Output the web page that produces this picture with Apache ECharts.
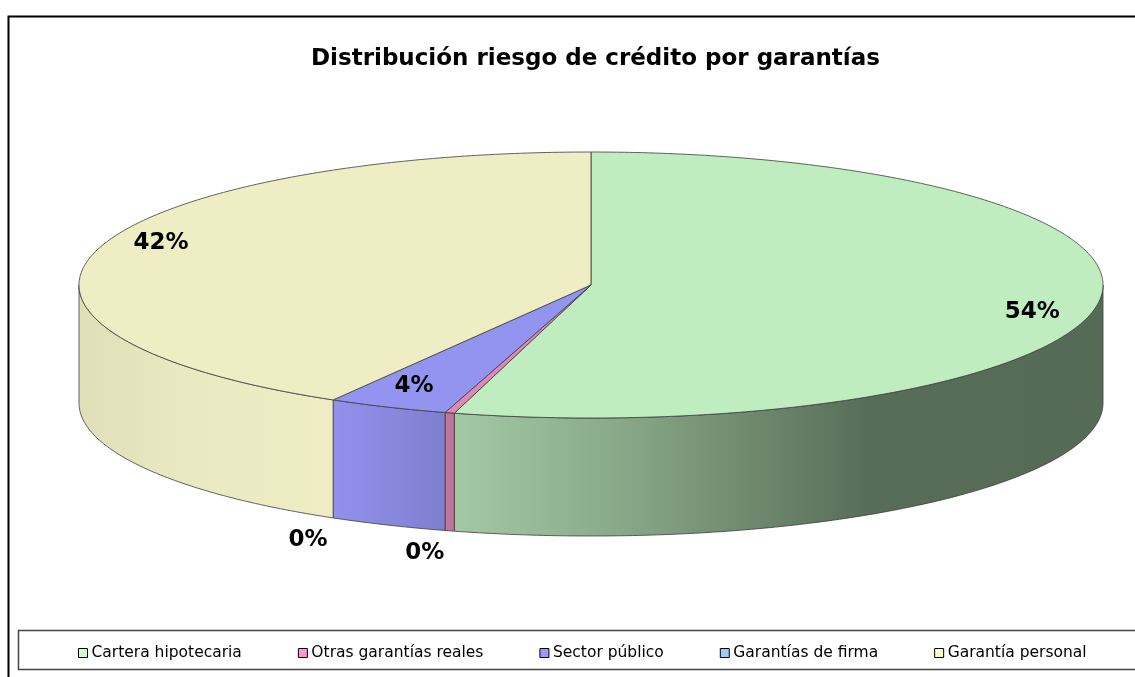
<!DOCTYPE html>
<html>
<head>
<meta charset="utf-8">
<script src="https://cdn.jsdelivr.net/npm/echarts@6/dist/echarts.min.js"></script>
<style>
  html, body { margin: 0; padding: 0; background: #fff; }
  #chart { width: 1135px; height: 677px; }
</style>
</head>
<body>
<div id="chart"></div>
<script>
const categories = ['Cartera hipotecaria', 'Otras garantías reales', 'Sector público', 'Garantías de firma', 'Garantía personal'];
const shares = [54.3, 0.3, 3.8, 0, 41.6];
const legendColors = ['#CCFFCC', '#FF99CC', '#9999FF', '#99CCFF', '#FFFFCC'];
const topColors = ['#C0EDC0', '#DE88B6', '#9393F0', '#99CCFF', '#EEEDC4'];

// pie geometry (3d look: ellipse + side wall)
const PIE = { cx: 591, cy: 285, rx: 512, ry: 133, depth: 118 };
const EDGE = '#3c3c3c';
const FONT = '"DejaVu Sans", Verdana, sans-serif';

const total = shares.reduce((s, v) => s + v, 0);
const starts = [];
const ends = [];
let acc = 0;
shares.forEach(v => {
  starts.push(acc / total);
  acc += v;
  ends.push(acc / total);
});

// point on the rim, t = fraction clockwise from 12 o'clock
function rim(t, dy, k) {
  k = k || 1;
  const ang = t * Math.PI * 2;
  return [PIE.cx + PIE.rx * k * Math.sin(ang), PIE.cy - PIE.ry * k * Math.cos(ang) + dy];
}

function shadeColor(hex, f) {
  const n = parseInt(hex.slice(1), 16);
  const r = Math.round(((n >> 16) & 255) * f);
  const g = Math.round(((n >> 8) & 255) * f);
  const b = Math.round((n & 255) * f);
  return 'rgb(' + r + ',' + g + ',' + b + ')';
}

// light falls from the left, the right part of the wall is darker
const sideShade = [[0, 0.94], [0.1, 0.98], [0.24, 1.0], [0.367, 0.85], [0.51, 0.73], [0.655, 0.58], [0.77, 0.46], [1, 0.45]];

function sideFill(color) {
  return {
    type: 'linear', x: PIE.cx - PIE.rx, y: 0, x2: PIE.cx + PIE.rx, y2: 0, global: true,
    colorStops: sideShade.map(s => ({ offset: s[0], color: shadeColor(color, s[1]) }))
  };
}

function renderSlice(i) {
  return function (params, api) {
    const a = api.value(0), b = api.value(1), v = api.value(2);
    const children = [];
    if (v > 0) {
      const s0 = Math.max(a, 0.25), s1 = Math.min(b, 0.75);
      if (s1 > s0) {
        const pts = [];
        const n = Math.max(2, Math.ceil((s1 - s0) * 500));
        for (let k = 0; k <= n; k++) pts.push(rim(s0 + (s1 - s0) * k / n, 0));
        for (let k = n; k >= 0; k--) pts.push(rim(s0 + (s1 - s0) * k / n, PIE.depth));
        children.push({
          type: 'polygon', shape: { points: pts },
          style: { fill: sideFill(topColors[i]), stroke: EDGE, lineWidth: 0.8 }
        });
      }
      const top = [[PIE.cx, PIE.cy]];
      const n = Math.max(2, Math.ceil((b - a) * 500));
      for (let k = 0; k <= n; k++) top.push(rim(a + (b - a) * k / n, 0));
      children.push({
        type: 'polygon', shape: { points: top },
        style: { fill: topColors[i], stroke: EDGE, lineWidth: 0.8 }
      });
    }
    const pct = Math.round(v / total * 100);
    const m = (a + b) / 2;
    let pos;
    if (pct > 0) {
      pos = rim(m, 0, 0.87);
      pos[1] += 12 * Math.sin(m * Math.PI * 2);
    } else {
      pos = rim(m, PIE.depth + 22);
      pos[0] -= 25;
    }
    children.push({
      type: 'text', z2: 100,
      style: {
        text: pct + '%', x: pos[0], y: pos[1],
        align: 'center', verticalAlign: 'middle',
        textAlign: 'center', textVerticalAlign: 'middle',
        fill: '#000', font: 'bold 23px ' + FONT
      }
    });
    return { type: 'group', children: children };
  };
}

const chart = echarts.init(document.getElementById('chart'), null, { renderer: 'canvas' });

const option = {
  animation: false,
  color: legendColors,
  title: {
    text: 'Distribución riesgo de crédito por garantías',
    left: 306,
    top: 43,
    textStyle: { fontFamily: FONT, fontSize: 23, fontWeight: 'bold', color: '#000' }
  },
  legend: {
    data: categories,
    left: 78,
    top: 645,
    padding: 0,
    itemGap: 56,
    itemWidth: 9,
    itemHeight: 9,
    icon: 'rect',
    itemStyle: { borderColor: '#000', borderWidth: 1 },
    textStyle: { fontFamily: FONT, fontSize: 15.5, color: '#000', padding: [0, 0, 0, -1] }
  },
  graphic: [
    { type: 'rect', shape: { x: 8.5, y: 16.5, width: 1140, height: 680 }, style: { fill: 'none', stroke: '#000', lineWidth: 2 }, silent: true },
    { type: 'rect', shape: { x: 18.5, y: 630.5, width: 1130, height: 39 }, style: { fill: 'none', stroke: '#444', lineWidth: 1.5 }, silent: true }
  ],
  series: categories.map((name, i) => ({
    type: 'custom',
    name: name,
    coordinateSystem: 'none',
    renderItem: renderSlice(i),
    data: [[starts[i], ends[i], shares[i]]]
  }))
};

chart.setOption(option);
</script>
</body>
</html>
